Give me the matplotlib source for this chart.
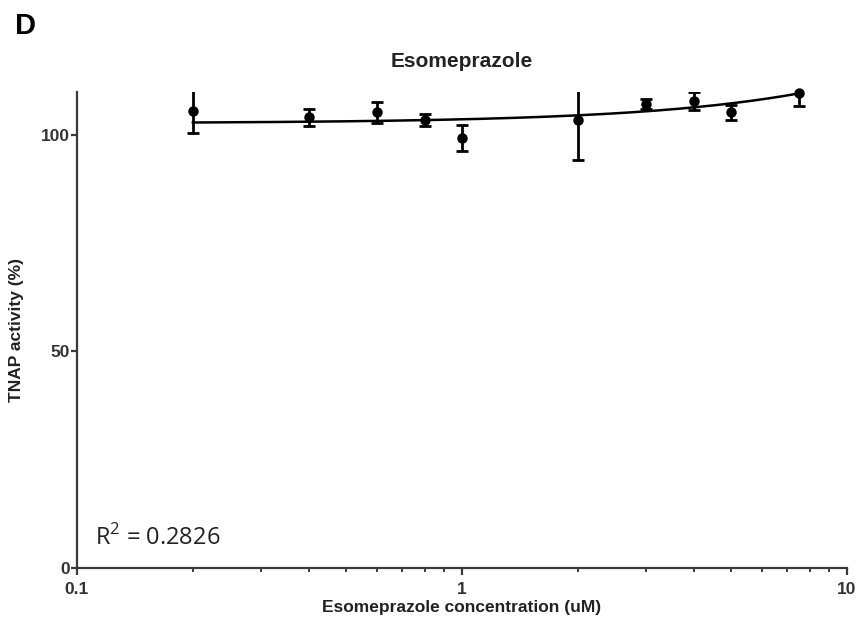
import numpy as np
import matplotlib.pyplot as plt

# data
conc = [0.2, 0.4, 0.6, 0.8, 1.0, 2.0, 3.0, 4.0, 5.0, 7.5]
activity = [105.5, 104.1, 105.2, 103.5, 99.2, 103.5, 107.1, 107.9, 105.2, 109.6]
err = [5.0, 2.0, 2.4, 1.4, 3.0, 9.3, 1.2, 2.1, 1.7, 2.9]
# fitted line (linear in concentration)
fit_intercept = 102.7
fit_slope = 0.92
r2_text = 'R$^2$ = 0.2826'
yticks = [0, 50, 100]
xticks = [0.1, 1, 10]
xticklabels = ['0.1', '1', '10']

plt.rcParams['font.family'] = ['Liberation Sans', 'DejaVu Sans']
plt.rcParams['mathtext.fontset'] = 'custom'
plt.rcParams['mathtext.rm'] = 'Open Sans'
axis_col = '#3a3a3a'

fig = plt.figure(figsize=(8.59, 6.22), dpi=100)
ax = fig.add_axes([0.0896, 0.0868, 0.8964, 0.7658])

xf = np.logspace(np.log10(min(conc)), np.log10(max(conc)), 200)
ax.plot(xf, fit_intercept + fit_slope * xf, color='black', lw=1.8, zorder=2)

# error bars clipped at the top of the axes, markers not
ax.errorbar(conc, activity, yerr=err, fmt='none', ecolor='black',
            elinewidth=2, capsize=4, capthick=2, zorder=3)
ax.plot(conc, activity, 'o', color='black', ms=6.5, zorder=4, clip_on=False)

ax.set_xscale('log')
ax.set_xlim(0.1, 10)
ax.set_ylim(0, 110)
ax.set_xticks(xticks)
ax.set_xticklabels(xticklabels)
ax.set_yticks(yticks)

for s in ['top', 'right']:
    ax.spines[s].set_visible(False)
for s in ['left', 'bottom']:
    ax.spines[s].set_linewidth(1.6)
    ax.spines[s].set_color(axis_col)

ax.tick_params(axis='y', which='major', length=4, width=1.6, color=axis_col,
               labelsize=12.5, labelcolor='#333333', pad=1)
ax.tick_params(axis='x', which='major', length=5, width=1.6, color=axis_col,
               labelsize=12.5, labelcolor='#333333', pad=5)
ax.tick_params(axis='x', which='minor', length=3, width=1.4, color=axis_col)
for lab in ax.get_xticklabels() + ax.get_yticklabels():
    lab.set_fontweight('bold')

ax.set_xlabel('Esomeprazole concentration (uM)', fontsize=12.5, fontweight='bold',
              color='#222222', labelpad=2)
ax.set_ylabel('TNAP activity (%)', fontsize=12.5, fontweight='bold',
              color='#222222', labelpad=12)
ax.set_title('Esomeprazole', fontsize=15, fontweight='bold', color='#222222', pad=18)

ax.text(0.0234, 0.048, r2_text, transform=ax.transAxes, ha='left', va='baseline',
        fontsize=17, family=['Open Sans', 'DejaVu Sans'], color='#222222')

fig.text(0.018, 0.945, 'D', fontsize=21, fontweight='bold', ha='left', va='baseline')

fig.savefig('out.png', dpi=100)
